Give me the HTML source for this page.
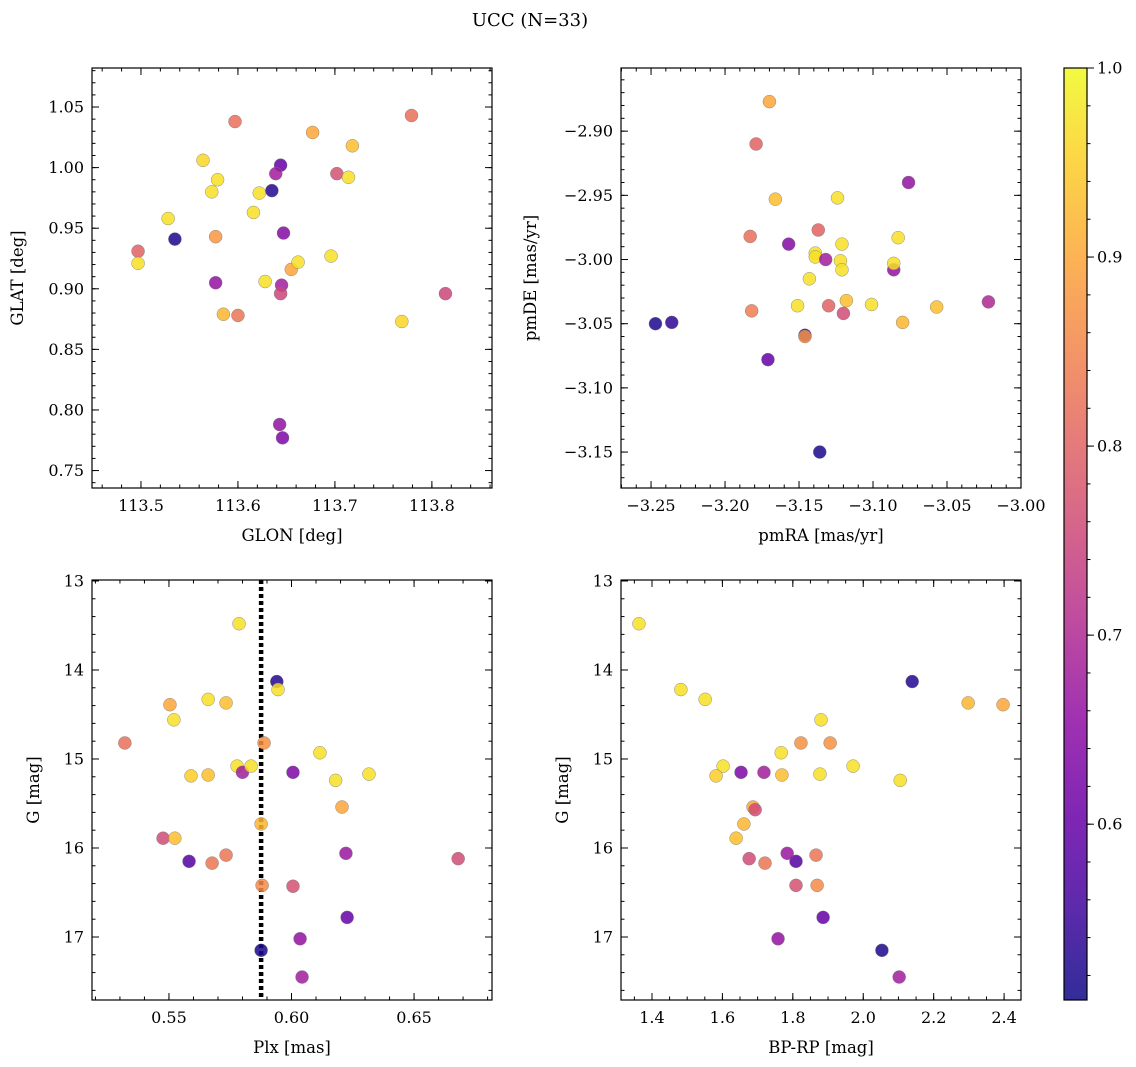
<!DOCTYPE html>
<html><head><meta charset="utf-8">
<style>
html,body{margin:0;padding:0;background:#fff;}
svg{display:block;font-family:"DejaVu Serif","Liberation Serif",serif;}
</style></head>
<body>
<svg id="fig" width="1136" height="1067" viewBox="0 0 1136 1067" xmlns="http://www.w3.org/2000/svg">
<text x="530" y="26" font-size="18" text-anchor="middle">UCC (N=33)</text>
</svg>
<script>
// ---- data: panel 1 (GLON vs GLAT) ----
const glon = [113.497,113.497,113.535,113.528,113.564,113.573,113.579,113.577,113.577,113.585,113.597,113.600,113.616,113.622,113.635,113.644,113.639,113.628,113.647,113.645,113.644,113.655,113.662,113.677,113.696,113.702,113.714,113.718,113.779,113.769,113.814,113.643,113.646];
const glat = [0.931,0.921,0.941,0.958,1.006,0.980,0.990,0.905,0.943,0.879,1.038,0.878,0.963,0.979,0.981,1.002,0.995,0.906,0.946,0.903,0.896,0.916,0.922,1.029,0.927,0.995,0.992,1.018,1.043,0.873,0.896,0.788,0.777];
const prob1 = [0.80,0.97,0.52,0.97,0.96,0.97,0.97,0.66,0.88,0.92,0.82,0.83,0.97,0.97,0.53,0.60,0.68,0.97,0.64,0.68,0.75,0.90,0.97,0.90,0.97,0.77,0.97,0.93,0.82,0.96,0.75,0.66,0.63];
// ---- panel 2 (pmRA vs pmDE) ----
const pmra = [-3.247,-3.236,-3.170,-3.179,-3.166,-3.183,-3.157,-3.182,-3.171,-3.151,-3.143,-3.139,-3.139,-3.137,-3.146,-3.146,-3.136,-3.132,-3.130,-3.124,-3.121,-3.122,-3.121,-3.120,-3.118,-3.101,-3.086,-3.086,-3.083,-3.080,-3.076,-3.057,-3.022];
const pmde = [-3.050,-3.049,-2.877,-2.910,-2.953,-2.982,-2.988,-3.040,-3.078,-3.036,-3.015,-2.995,-2.998,-2.977,-3.059,-3.060,-3.150,-3.000,-3.036,-2.952,-2.988,-3.001,-3.008,-3.042,-3.032,-3.035,-3.008,-3.003,-2.983,-3.049,-2.940,-3.037,-3.033];
const prob2 = [0.52,0.54,0.90,0.80,0.93,0.82,0.64,0.84,0.60,0.97,0.97,0.97,0.97,0.80,0.54,0.87,0.52,0.68,0.80,0.97,0.97,0.97,0.97,0.76,0.93,0.97,0.66,0.97,0.97,0.92,0.66,0.93,0.70];
// ---- panel 3 (Plx vs G) ----
const plx = [0.532,0.5476,0.5504,0.552,0.5524,0.5582,0.559,0.566,0.566,0.5676,0.5733,0.5733,0.5786,0.5778,0.580,0.5835,0.5876,0.588,0.5888,0.5876,0.594,0.5945,0.6006,0.6006,0.6035,0.6043,0.6116,0.618,0.6206,0.6222,0.6227,0.6316,0.668];
const gmag3 = [14.82,15.89,14.39,14.56,15.89,16.15,15.19,14.33,15.18,16.17,14.37,16.08,13.48,15.08,15.15,15.08,15.73,16.42,14.82,17.15,14.13,14.22,15.15,16.43,17.02,17.45,14.93,15.24,15.54,16.06,16.78,15.17,16.12];
const prob3 = [0.82,0.76,0.90,0.97,0.93,0.58,0.95,0.97,0.93,0.83,0.93,0.83,0.97,0.97,0.68,0.97,0.92,0.86,0.87,0.52,0.53,0.97,0.63,0.77,0.66,0.68,0.97,0.97,0.90,0.67,0.60,0.97,0.76];
const plxMedian = 0.5876;
// ---- panel 4 (BP-RP vs G) ----
const bprp = [1.363,1.482,1.551,2.298,2.397,2.139,1.880,1.823,1.906,1.767,1.602,1.582,1.653,1.718,1.769,1.877,1.971,2.105,1.687,1.693,1.661,1.639,1.676,1.721,1.809,1.784,1.866,1.809,1.869,1.886,1.758,2.053,2.102];
const gmag4 = [13.48,14.22,14.33,14.37,14.39,14.13,14.56,14.82,14.82,14.93,15.08,15.19,15.15,15.15,15.18,15.17,15.08,15.24,15.54,15.57,15.73,15.89,16.12,16.17,16.15,16.06,16.08,16.42,16.42,16.78,17.02,17.15,17.45];
const prob4 = [0.97,0.97,0.97,0.92,0.90,0.53,0.97,0.87,0.87,0.97,0.97,0.95,0.63,0.68,0.93,0.97,0.97,0.97,0.90,0.76,0.92,0.93,0.76,0.83,0.58,0.67,0.83,0.77,0.86,0.60,0.66,0.52,0.68];
// ---- colorbar ----
const cbTicks = [0.6,0.7,0.8,0.9,1.0];
const cbMin = 0.507, cbMax = 1.0;

const NS="http://www.w3.org/2000/svg";
const svg=document.getElementById('fig');
function mk(tag,attrs,parent){const e=document.createElementNS(NS,tag);for(const k in attrs)e.setAttribute(k,attrs[k]);(parent||svg).appendChild(e);return e;}
const stops=[[0,'#0d0887'],[0.1,'#41049d'],[0.2,'#6a00a8'],[0.3,'#8f0da4'],[0.4,'#b12a90'],[0.5,'#cc4778'],[0.6,'#e16462'],[0.7,'#f2844b'],[0.8,'#fca636'],[0.9,'#fcce25'],[1,'#f0f921']];
function hex(h){return [1,3,5].map(i=>parseInt(h.substr(i,2),16));}
function plasma(t){t=Math.max(0,Math.min(1,t));for(let i=1;i<stops.length;i++){if(t<=stops[i][0]){const a=stops[i-1],b=stops[i];const f=(t-a[0])/(b[0]-a[0]);const ca=hex(a[1]),cb=hex(b[1]);return 'rgb('+ca.map((v,j)=>Math.round(v+(cb[j]-v)*f)).join(',')+')';}}return stops[10][1];}
function cmap(p){return plasma((p-cbMin)/(cbMax-cbMin));}

function panel(cfg){
  const {x0,y0,w,h,xmin,xmax,ymin,ymax,invY,xMaj,xMin,yMaj,yMin,xDec,yDec,name}=cfg;
  const g=mk('g',{});
  
  
  const X=v=>x0+(v-xmin)/(xmax-xmin)*w;
  const Y=v=>invY? y0+(v-ymin)/(ymax-ymin)*h : y0+h-(v-ymin)/(ymax-ymin)*h;
  const ticks=(lo,hi,step)=>{const r=[];const s=Math.ceil(lo/step-1e-9);for(let k=s;k*step<=hi+1e-9;k++)r.push(+(k*step).toFixed(6));return r;};
  const tg=mk('g',{stroke:'#000','stroke-width':1},g);
  ticks(xmin,xmax,xMin).forEach(v=>{const x=X(v);mk('line',{x1:x,x2:x,y1:y0+h,y2:y0+h-3.5},tg);mk('line',{x1:x,x2:x,y1:y0,y2:y0+3.5},tg);});
  ticks(xmin,xmax,xMaj).forEach(v=>{const x=X(v);mk('line',{x1:x,x2:x,y1:y0+h,y2:y0+h-7},tg);mk('line',{x1:x,x2:x,y1:y0,y2:y0+7},tg);
    const t=mk('text',{x:x,y:y0+h+23,'font-size':16,'text-anchor':'middle',stroke:'none'},g);t.textContent=v.toFixed(xDec).replace('-','\u2212');
    });
  const ylo=Math.min(ymin,ymax),yhi=Math.max(ymin,ymax);
  ticks(ylo,yhi,yMin).forEach(v=>{const y=Y(v);mk('line',{x1:x0,x2:x0+3.5,y1:y,y2:y},tg);mk('line',{x1:x0+w,x2:x0+w-3.5,y1:y,y2:y},tg);});
  ticks(ylo,yhi,yMaj).forEach(v=>{const y=Y(v);mk('line',{x1:x0,x2:x0+7,y1:y,y2:y},tg);mk('line',{x1:x0+w,x2:x0+w-7,y1:y,y2:y},tg);
    const t=mk('text',{x:x0-8,y:y+5.5,'font-size':16,'text-anchor':'end'},g);t.textContent=v.toFixed(yDec).replace('-','\u2212');
    });
  if(cfg.vline!==undefined){const l=mk('line',{x1:X(cfg.vline),x2:X(cfg.vline),y1:y0,y2:y0+h,stroke:'#000','stroke-width':4.5,'stroke-dasharray':'4,3'},g);
    }
  cfg.xs.forEach((v,i)=>{const c=mk('circle',{cx:X(v),cy:Y(cfg.ys[i]),r:6.5,fill:cmap(cfg.ps[i]),'fill-opacity':0.85,stroke:'#777','stroke-width':0.4},g);
    });
  const fr=mk('rect',{x:x0,y:y0,width:w,height:h,fill:'none',stroke:'#000','stroke-width':1.2},g);
  
  const xl=mk('text',{x:x0+w/2,y:y0+h+53,'font-size':16.5,'text-anchor':'middle'},g);xl.textContent=cfg.xlabel;
  
  const yx=cfg.ylx, yy=y0+h/2;
  const yl=mk('text',{x:yx,y:yy,'font-size':16.5,'text-anchor':'middle',transform:`rotate(-90 ${yx} ${yy})`},g);yl.textContent=cfg.ylabel;
  
}
panel({name:'glon-glat-panel',x0:92,y0:68,w:400,h:420,xmin:113.4495,xmax:113.862,ymin:0.7356,ymax:1.0822,xMaj:0.1,xMin:0.02,yMaj:0.05,yMin:0.01,xDec:1,yDec:2,xs:glon,ys:glat,ps:prob1,xlabel:'GLON [deg]',ylabel:'GLAT [deg]',ylx:23});
panel({name:'pm-panel',x0:621,y0:68,w:400,h:420,xmin:-3.2703,xmax:-3.0,ymin:-3.178,ymax:-2.8508,xMaj:0.05,xMin:0.01,yMaj:0.05,yMin:0.01,xDec:2,yDec:2,xs:pmra,ys:pmde,ps:prob2,xlabel:'pmRA [mas/yr]',ylabel:'pmDE [mas/yr]',ylx:536});
panel({name:'plx-g-panel',x0:92,y0:580,w:400,h:420,xmin:0.5186,xmax:0.6818,ymin:12.989,ymax:17.708,invY:true,xMaj:0.05,xMin:0.01,yMaj:1,yMin:0.2,xDec:2,yDec:0,xs:plx,ys:gmag3,ps:prob3,xlabel:'Plx [mas]',ylabel:'G [mag]',ylx:39,vline:plxMedian});
panel({name:'cmd-panel',x0:621,y0:580,w:400,h:420,xmin:1.312,xmax:2.448,ymin:12.989,ymax:17.708,invY:true,xMaj:0.2,xMin:0.05,yMaj:1,yMin:0.2,xDec:1,yDec:0,xs:bprp,ys:gmag4,ps:prob4,xlabel:'BP-RP [mag]',ylabel:'G [mag]',ylx:568});

// colorbar
const cb=mk('g',{});


const defs=mk('defs',{},cb);
const lg=mk('linearGradient',{id:'cbg',x1:0,y1:1,x2:0,y2:0},defs);
for(let i=0;i<=20;i++){const t=i/20;mk('stop',{offset:t,'stop-color':cmap(cbMin+t*(cbMax-cbMin)),'stop-opacity':0.85},lg);}
const cx0=1064,cy0=68,cw=23,ch=932;
mk('rect',{x:cx0,y:cy0,width:cw,height:ch,fill:'url(#cbg)',stroke:'#000','stroke-width':1.2},cb);
const CY=v=>cy0+ch-(v-cbMin)/(cbMax-cbMin)*ch;
for(let v=0.52;v<=1.0001;v+=0.02){mk('line',{x1:cx0+cw,x2:cx0+cw+3.5,y1:CY(v),y2:CY(v),stroke:'#000'},cb);}
cbTicks.forEach(v=>{const y=CY(v);mk('line',{x1:cx0+cw,x2:cx0+cw+7,y1:y,y2:y,stroke:'#000'},cb);
  const t=mk('text',{x:cx0+cw+10,y:y+5.5,'font-size':16},cb);t.textContent=v.toFixed(1);
  });
</script>
</body></html>
